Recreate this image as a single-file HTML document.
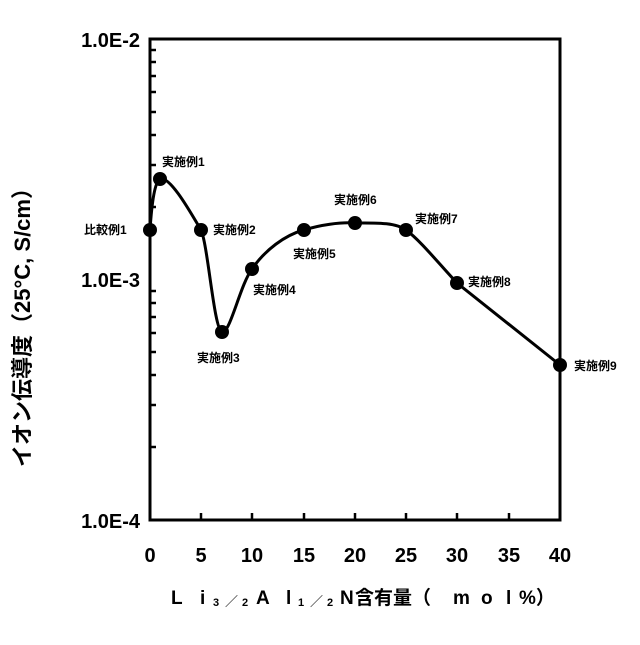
<!DOCTYPE html>
<html><head><meta charset="utf-8"><style>
html,body{margin:0;padding:0;background:#fff}
svg text{font-family:"Liberation Sans","Noto Sans CJK JP",sans-serif;fill:#000}
</style></head><body>
<svg width="640" height="640" viewBox="0 0 640 640" xmlns="http://www.w3.org/2000/svg">
<rect width="640" height="640" fill="#fff"/>
<rect x="150" y="39" width="410" height="481" fill="none" stroke="#000" stroke-width="3"/>
<g stroke="#000" stroke-width="2.5">
<line x1="150" y1="207" x2="156" y2="207"/><line x1="150" y1="165" x2="156" y2="165"/>
<line x1="150" y1="135" x2="156" y2="135"/><line x1="150" y1="112" x2="156" y2="112"/>
<line x1="150" y1="92" x2="156" y2="92"/><line x1="150" y1="76" x2="156" y2="76"/>
<line x1="150" y1="62" x2="156" y2="62"/><line x1="150" y1="50" x2="156" y2="50"/>
<line x1="150" y1="447" x2="156" y2="447"/><line x1="150" y1="405" x2="156" y2="405"/>
<line x1="150" y1="375" x2="156" y2="375"/><line x1="150" y1="352" x2="156" y2="352"/>
<line x1="150" y1="333" x2="156" y2="333"/><line x1="150" y1="317" x2="156" y2="317"/>
<line x1="150" y1="303" x2="156" y2="303"/><line x1="150" y1="291" x2="156" y2="291"/>
<line x1="201" y1="520" x2="201" y2="513"/><line x1="252" y1="520" x2="252" y2="513"/>
<line x1="304" y1="520" x2="304" y2="513"/><line x1="355" y1="520" x2="355" y2="513"/>
<line x1="406" y1="520" x2="406" y2="513"/><line x1="457" y1="520" x2="457" y2="513"/>
<line x1="509" y1="520" x2="509" y2="513"/>
</g>
<path d="M150,230 C152,200 155,182 160,179 C170,175 192,215 201,230 C208,245 214,330 222,332 C230,334 240,285 252,269 C265,250 285,235 304,230 C320,225 340,222 355,223 C375,223 395,222 406,230 C420,240 440,265 457,283 L560,365" fill="none" stroke="#000" stroke-width="3"/>
<g fill="#000">
<circle cx="150" cy="230" r="7"/><circle cx="160" cy="179" r="7"/><circle cx="201" cy="230" r="7"/>
<circle cx="222" cy="332" r="7"/><circle cx="252" cy="269" r="7"/><circle cx="304" cy="230" r="7"/>
<circle cx="355" cy="223" r="7"/><circle cx="406" cy="230" r="7"/><circle cx="457" cy="283" r="7"/>
<circle cx="560" cy="365" r="7"/>
</g>
<g font-size="12" font-weight="bold">
<text x="162" y="166">実施例1</text>
<text x="84" y="234">比較例1</text>
<text x="213" y="234">実施例2</text>
<text x="197" y="362">実施例3</text>
<text x="253" y="294">実施例4</text>
<text x="293" y="258">実施例5</text>
<text x="334" y="204">実施例6</text>
<text x="415" y="223">実施例7</text>
<text x="468" y="286">実施例8</text>
<text x="574" y="370">実施例9</text>
</g>
<g font-size="20" font-weight="bold" text-anchor="end">
<text x="140" y="47">1.0E-2</text>
<text x="140" y="287">1.0E-3</text>
<text x="140" y="528">1.0E-4</text>
</g>
<g font-size="20" font-weight="bold" text-anchor="middle">
<text x="150" y="562">0</text><text x="201" y="562">5</text><text x="252" y="562">10</text>
<text x="304" y="562">15</text><text x="355" y="562">20</text><text x="406" y="562">25</text>
<text x="457" y="562">30</text><text x="509" y="562">35</text><text x="560" y="562">40</text>
</g>
<g font-size="19" font-weight="bold">
<text x="171" y="604">L</text>
<text x="200" y="604">i</text>
<text x="213" y="606" font-size="11">3</text>
<text x="225" y="606" font-size="13" font-weight="normal">／</text>
<text x="242" y="606" font-size="11">2</text>
<text x="256" y="604">A</text>
<text x="286" y="604">l</text>
<text x="298" y="606" font-size="11">1</text>
<text x="310" y="606" font-size="13" font-weight="normal">／</text>
<text x="327" y="606" font-size="11">2</text>
<text x="340" y="604">N</text>
<text x="355" y="604">含有量（</text>
<text x="453" y="604">m</text>
<text x="481" y="604">o</text>
<text x="506" y="604">l</text>
<text x="519" y="604">%）</text>
</g>
<text transform="translate(30,322) rotate(-90)" text-anchor="middle" font-size="22" font-weight="bold">イオン伝導度（25°C, S/cm）</text>
</svg>
</body></html>
